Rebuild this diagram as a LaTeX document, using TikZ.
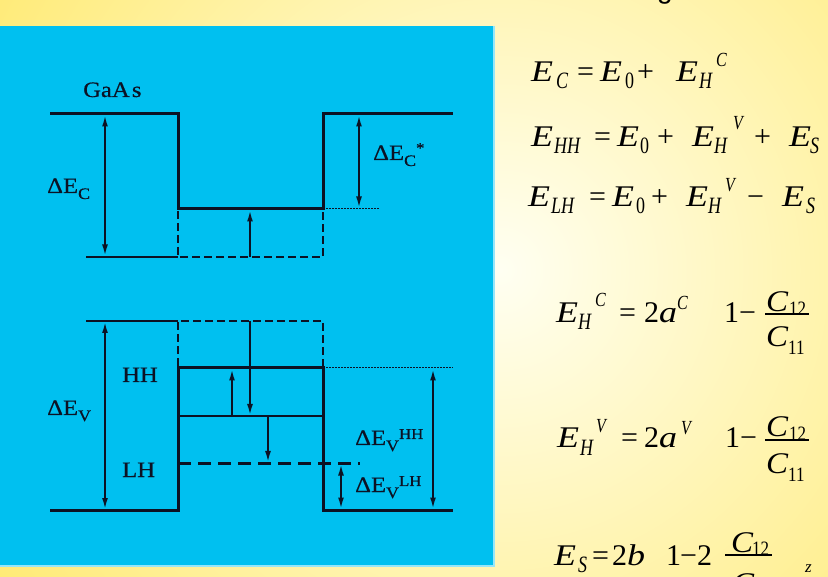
\documentclass[tikz,border=0pt]{standalone}
\usepackage{fontspec}
\usepackage{graphicx}
\setmainfont{Liberation Serif}
\newfontfamily\sansg{Liberation Sans}
\newfontfamily\labfont[FakeBold=0.5]{Liberation Serif}
\usetikzlibrary{arrows.meta}
\definecolor{bgyel}{RGB}{255,234,115}
\definecolor{bgwhite}{RGB}{255,255,242}
\definecolor{cyanbox}{RGB}{0,192,240}
\definecolor{cyanedge}{RGB}{150,230,250}
\definecolor{ink}{RGB}{12,18,36}
\newcommand\wide[1]{\scalebox{1.12}[1]{#1}}
\newcommand\It[1]{\scalebox{1.2}[1]{\textit{#1}}}
\newcommand\Ic[1]{\scalebox{1.1}[1]{\textit{#1}}}
\newcommand\eqt[1]{\scalebox{1}[1.3]{#1}}
\newcommand\eqp[1]{\scalebox{1}[1.25]{#1}}
\newcommand\eqd[1]{\scalebox{1}[1.2]{#1}}
\newcommand\lsb[1]{\raisebox{-6pt}{\fontsize{16}{16}\selectfont #1}}
\newcommand\lsp[1]{\raisebox{6pt}{\fontsize{15}{15}\selectfont #1}}
\newcommand\lstar[1]{\raisebox{7pt}{\fontsize{15}{15}\selectfont #1}}
\tikzset{
 band/.style={ink, line width=3pt, line join=miter},
 thinline/.style={ink, line width=1.3pt},
 dashline/.style={ink, line width=1.3pt, dash pattern=on 8pt off 4pt},
 dotline/.style={ink, line width=1pt, dash pattern=on 1.5pt off 1.5pt},
 lhline/.style={ink, line width=3pt, dash pattern=on 13pt off 7pt},
 arr/.style={ink, line width=1.8pt, -{Latex[length=11pt,width=6pt]}},
 darr/.style={ink, line width=1.8pt, {Latex[length=11pt,width=6pt]}-{Latex[length=11pt,width=6pt]}},
 lab/.style={anchor=base west, inner sep=0pt, text=ink, font=\labfont\fontsize{22}{22}\selectfont},
 eqn/.style={anchor=base west, inner sep=0pt, text=black},
 fracbar/.style={black, line width=1.1pt},
}
\newcommand\EqM[4]{\node[eqn,font=\fontsize{30}{30}\selectfont] (#1) at (#2,#3) {#4};}
\newcommand\EqS[4]{\node[eqn,font=\fontsize{18}{18}\selectfont] (#1) at (#2,#3) {\eqt{#4}};}
\newcommand\EqP[4]{\node[eqn,font=\fontsize{16}{16}\selectfont] (#1) at (#2,#3) {\eqp{#4}};}
\newcommand\EqD[4]{\node[eqn,font=\fontsize{17}{17}\selectfont] (#1) at (#2,#3) {\eqd{#4}};}
\begin{document}
\begin{tikzpicture}[x=1pt,y=-1pt]
\useasboundingbox (0,0) rectangle (828,577);
\begin{scope}
\clip (0,0) rectangle (828,577);
\shade[inner color=bgwhite, outer color=bgyel] (500,270) circle (600);
\node[anchor=base, inner sep=0pt, font=\sansg\fontsize{28}{28}\selectfont] (gcut) at (665,-1) {g};
\node[eqn,font=\fontsize{30}{30}\selectfont] (e6den) at (732,593) {\Ic{C}};
\end{scope}
% cyan panel
\fill[cyanbox] (0,26) rectangle (494,566);
\draw[cyanedge, line width=2pt] (494,26) -- (494,566) -- (0,566);
% conduction band
\draw[band] (50,114) -- (178,114) -- (178,209) -- (323,209) -- (323,114) -- (453,114);
\draw[dotline] (323,209) -- (379,209);
\draw[thinline] (86,257) -- (178,257);
\draw[dashline] (178,211) -- (178,257) -- (323,257) -- (323,211);
\draw[darr] (105,115.5) -- (105,255.5);
\draw[arr] (250,257) -- (250,210.5);
\draw[darr] (359,115.5) -- (359,207.5);
% valence band
\draw[thinline] (86,321) -- (178,321);
\draw[dashline] (178,366) -- (178,321) -- (323,321) -- (323,366);
\draw[band] (50,510) -- (178,510) -- (178,368) -- (323,368) -- (323,510) -- (453,510);
\draw[dotline] (323,368) -- (453,368);
\draw[thinline] (178,416) -- (323,416);
\draw[lhline] (178,463) -- (360,463);
\draw[darr] (105,322) -- (105,509);
\draw[arr] (232,416) -- (232,369.5);
\draw[arr] (250,321) -- (250,415);
\draw[arr] (268,416) -- (268,462);
\draw[darr] (433,369.5) -- (433,508.5);
\draw[darr] (341,464.5) -- (341,508.5);
% labels
\node[lab] (gaas) at (83,97) {\wide{GaA\kern2pt s}};
\node[lab] (dec) at (47,193) {\wide{ΔE\lsb{C}}};
\node[lab] (decs) at (373,160) {\wide{ΔE\lsb{C}\lstar{*}}};
\node[lab] (dev) at (47,415) {\wide{ΔE\lsb{V}}};
\node[lab] (hh) at (122,382) {\wide{HH}};
\node[lab] (lh) at (122,477) {\wide{LH}};
\node[lab] (devhh) at (355,445) {\wide{ΔE\lsb{V}\lsp{HH}}};
\node[lab] (devlh) at (355,492) {\wide{ΔE\lsb{V}\lsp{LH}}};
% equation 1
\EqM{e1a}{531}{82}{\It{E}}
\EqS{e1b}{556}{89}{\textit{C}}
\EqM{e1c}{577}{82}{=}
\EqM{e1d}{600}{82}{\It{E}}
\EqS{e1e}{625}{89}{0}
\EqM{e1f}{637}{82}{+}
\EqM{e1g}{676}{82}{\It{E}}
\EqS{e1h}{699}{89}{\textit{H}}
\EqP{e1i}{716}{67}{\textit{C}}
% equation 2
\EqM{e2a}{531}{147}{\It{E}}
\EqS{e2b}{554}{154}{\textit{HH}}
\EqM{e2c}{594}{147}{=}
\EqM{e2d}{617}{147}{\It{E}}
\EqS{e2e}{640}{154}{0}
\EqM{e2f}{657}{147}{+}
\EqM{e2g}{692}{147}{\It{E}}
\EqS{e2h}{714}{154}{\textit{H}}
\EqP{e2i}{733}{130}{\textit{V}}
\EqM{e2j}{754}{147}{+}
\EqM{e2k}{789}{147}{\It{E}}
\EqS{e2l}{810}{154}{\textit{S}}
% equation 3
\EqM{e3a}{528}{207}{\It{E}}
\EqS{e3b}{551}{214}{\textit{LH}}
\EqM{e3c}{589}{207}{=}
\EqM{e3d}{612}{207}{\It{E}}
\EqS{e3e}{636}{214}{0}
\EqM{e3f}{651}{207}{+}
\EqM{e3g}{686}{207}{\It{E}}
\EqS{e3h}{708}{214}{\textit{H}}
\EqP{e3i}{725}{192}{\textit{V}}
\EqM{e3j}{747}{207}{−}
\EqM{e3k}{782}{207}{\It{E}}
\EqS{e3l}{806}{214}{\textit{S}}
% equation 4
\EqM{e4a}{556}{323}{\It{E}}
\EqS{e4b}{578}{330}{\textit{H}}
\EqP{e4c}{595}{307}{\textit{C}}
\EqM{e4d}{619}{323}{=}
\EqM{e4e}{644}{323}{2\It{a}}
\EqP{e4f}{677}{310}{\textit{C}}
\EqM{e4g}{724}{323}{1}
\EqM{e4h}{739}{323}{−}
\draw[fracbar] (765,314) -- (809,314);
\EqM{e4i}{766}{312}{\Ic{C}}
\EqD{e4j}{789}{316}{12}
\EqM{e4k}{766}{347}{\Ic{C}}
\EqD{e4l}{788}{355}{11}
% equation 5
\EqM{e5a}{557}{448}{\It{E}}
\EqS{e5b}{580}{455}{\textit{H}}
\EqP{e5c}{596}{432}{\textit{V}}
\EqM{e5d}{621}{448}{=}
\EqM{e5e}{644}{448}{2\It{a}}
\EqP{e5f}{681}{435}{\textit{V}}
\EqM{e5g}{725}{448}{1}
\EqM{e5h}{740}{448}{−}
\draw[fracbar] (765,440) -- (809,440);
\EqM{e5i}{766}{437}{\Ic{C}}
\EqD{e5j}{789}{441}{12}
\EqM{e5k}{766}{473}{\Ic{C}}
\EqD{e5l}{788}{481}{11}
% equation 6
\EqM{e6a}{554}{565}{\It{E}}
\EqS{e6b}{578}{572}{\textit{S}}
\EqM{e6c}{592}{565}{=}
\EqM{e6d}{612}{565}{2\It{b}}
\EqM{e6e}{666}{565}{1}
\EqM{e6f}{680}{565}{−}
\EqM{e6g}{697}{565}{2}
\draw[fracbar] (725,555) -- (772,555);
\EqM{e6h}{731}{552}{\Ic{C}}
\EqD{e6i}{752}{555}{12}
\node[eqn,font=\fontsize{17}{17}\selectfont] (e6z) at (805,572) {\textit{z}};
\end{tikzpicture}
\end{document}
